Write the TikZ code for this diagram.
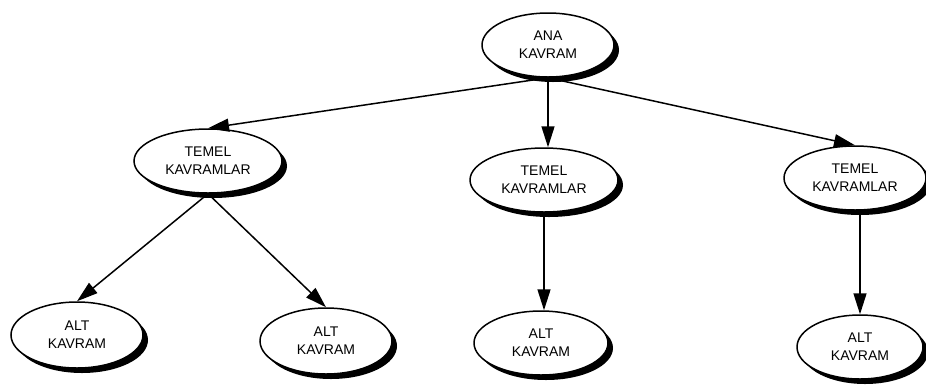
\documentclass[tikz,border=0pt]{standalone}
\usepackage{fontspec}
\setmainfont{Liberation Sans}
\usetikzlibrary{shapes.geometric,shadows,arrows.meta}
\begin{document}
\begin{tikzpicture}[x=1pt,y=-1pt,
  concept/.style={ellipse, draw=black, line width=1.5pt, fill=white,
    inner sep=0pt, align=center,
    font=\fontsize{14}{18}\selectfont,
    drop shadow={shadow xshift=5pt, shadow yshift=-5pt, fill=black, opacity=1}},
  link/.style={line width=1.5pt, -{Triangle[length=21pt,width=13pt]}}]
\useasboundingbox (0,0) rectangle (926,389);

% top concept
\node[concept, minimum width=132pt, minimum height=64pt] (ana) at (548,45) {ANA\\KAVRAM};

% second level
\node[concept, minimum width=148pt, minimum height=64pt] (t1) at (208,161) {TEMEL\\KAVRAMLAR};
\node[concept, minimum width=148pt, minimum height=64pt] (t2) at (544,180) {TEMEL\\KAVRAMLAR};
\node[concept, minimum width=142pt, minimum height=64pt] (t3) at (855,178) {TEMEL\\KAVRAMLAR};

% leaves
\node[concept, minimum width=132pt, minimum height=66pt] (a1) at (77,335) {ALT\\KAVRAM};
\node[concept, minimum width=132pt, minimum height=66pt] (a2) at (326,341) {ALT\\KAVRAM};
\node[concept, minimum width=134pt, minimum height=64pt] (a3) at (541,343) {ALT\\KAVRAM};
\node[concept, minimum width=126pt, minimum height=64pt] (a4) at (860,347) {ALT\\KAVRAM};

% connectors
\draw[link] (ana.south) -- (t1.north);
\draw[link] (ana.south) -- (ana.south |- t2.north);
\draw[link] (ana.south) -- (t3.north);
\draw[link] (t1.south) -- (a1.north);
\draw[link] (t1.south) -- (a2.north);
\draw[link] (t2.south) -- (t2.south |- a3.north);
\draw[link] (a4.north |- t3.south) -- (a4.north);
\end{tikzpicture}
\end{document}
